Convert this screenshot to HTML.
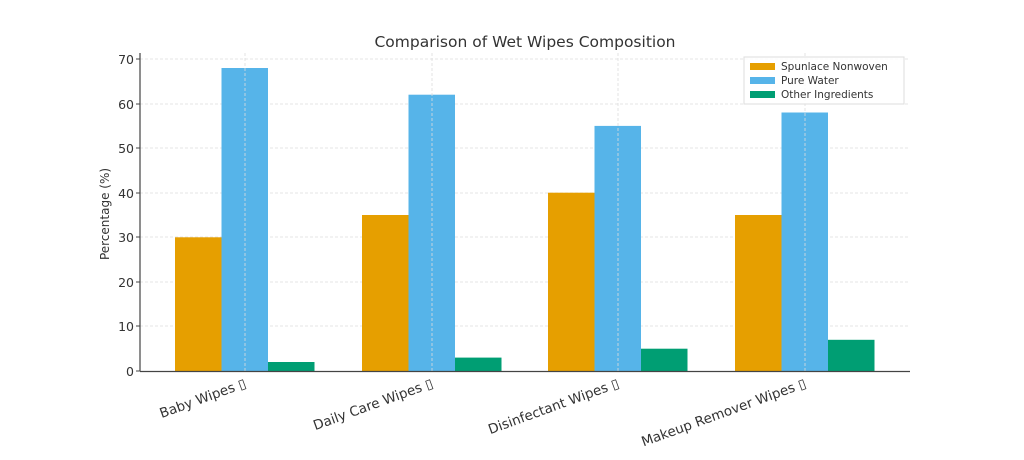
<!DOCTYPE html>
<html><head><meta charset="utf-8"><style>
body{margin:0;background:#fff}
text{font-family:"DejaVu Sans","Liberation Sans",sans-serif;fill:#333}
</style></head><body>
<svg width="1024" height="455" viewBox="0 0 1024 455" xmlns="http://www.w3.org/2000/svg">
<rect width="1024" height="455" fill="#fff"/>
<text x="525" y="47" font-size="15.5" text-anchor="middle">Comparison of Wet Wipes Composition</text>
<g stroke="#ddd" stroke-width="0.8" stroke-dasharray="3,2">
<line x1="140" x2="910" y1="59" y2="59"/><line x1="140" x2="910" y1="104" y2="104"/>
<line x1="140" x2="910" y1="148" y2="148"/><line x1="140" x2="910" y1="193" y2="193"/>
<line x1="140" x2="910" y1="237" y2="237"/><line x1="140" x2="910" y1="282" y2="282"/>
<line x1="140" x2="910" y1="326" y2="326"/>
</g>
<g id="bars">
<rect x="175" y="237.3" width="46.5" height="133.7" fill="#e69f00"/>
<rect x="221.5" y="68" width="46.5" height="303" fill="#56b4e9"/>
<rect x="268" y="362" width="46.5" height="9" fill="#009e73"/>
<rect x="362" y="215" width="46.5" height="156" fill="#e69f00"/>
<rect x="408.5" y="94.7" width="46.5" height="276.3" fill="#56b4e9"/>
<rect x="455" y="357.6" width="46.5" height="13.4" fill="#009e73"/>
<rect x="548" y="192.7" width="46.5" height="178.3" fill="#e69f00"/>
<rect x="594.5" y="125.9" width="46.5" height="245.1" fill="#56b4e9"/>
<rect x="641" y="348.7" width="46.5" height="22.3" fill="#009e73"/>
<rect x="735" y="215" width="46.5" height="156" fill="#e69f00"/>
<rect x="781.5" y="112.5" width="46.5" height="258.5" fill="#56b4e9"/>
<rect x="828" y="339.8" width="46.5" height="31.2" fill="#009e73"/>
</g>
<g stroke="#ddd" stroke-width="0.8" stroke-dasharray="3,2">
<line x1="245" x2="245" y1="53" y2="371"/><line x1="432" x2="432" y1="53" y2="371"/>
<line x1="618" x2="618" y1="53" y2="371"/><line x1="805" x2="805" y1="53" y2="371"/>
</g>
<line x1="140" y1="53" x2="140" y2="371.5" stroke="#444" stroke-width="1.2"/>
<line x1="140" y1="371.5" x2="910" y2="371.5" stroke="#444" stroke-width="1.2"/>
<g font-size="12.5" text-anchor="end">
<text x="134" y="376">0</text><text x="134" y="331">10</text><text x="134" y="287">20</text>
<text x="134" y="242">30</text><text x="134" y="198">40</text><text x="134" y="153">50</text>
<text x="134" y="109">60</text><text x="134" y="64">70</text>
</g>
<g stroke="#444"><line x1="136" x2="140" y1="371" y2="371"/><line x1="136" x2="140" y1="326" y2="326"/><line x1="136" x2="140" y1="282" y2="282"/><line x1="136" x2="140" y1="237" y2="237"/><line x1="136" x2="140" y1="193" y2="193"/><line x1="136" x2="140" y1="148" y2="148"/><line x1="136" x2="140" y1="104" y2="104"/><line x1="136" x2="140" y1="59" y2="59"/></g>
<text transform="translate(109,214) rotate(-90)" font-size="12" text-anchor="middle">Percentage (%)</text>
<g font-size="13.5" text-anchor="end">
<text transform="translate(247,387) rotate(-20)">Baby Wipes ▯</text>
<text transform="translate(434,387) rotate(-20)">Daily Care Wipes ▯</text>
<text transform="translate(620,387) rotate(-20)">Disinfectant Wipes ▯</text>
<text transform="translate(807,387) rotate(-20)">Makeup Remover Wipes ▯</text>
</g>
<rect x="744" y="57" width="160" height="47" fill="#fff" fill-opacity="0.85" stroke="#ddd"/>
<rect x="750" y="63" width="25" height="7" fill="#e69f00"/>
<rect x="750" y="77" width="25" height="7" fill="#56b4e9"/>
<rect x="750" y="91" width="25" height="7" fill="#009e73"/>
<g font-size="10.5"><text x="781" y="70">Spunlace Nonwoven</text><text x="781" y="84">Pure Water</text><text x="781" y="98">Other Ingredients</text></g>
</svg>
</body></html>
